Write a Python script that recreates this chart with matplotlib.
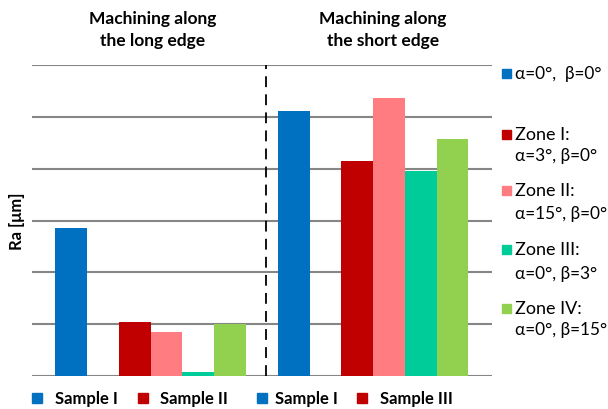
import matplotlib
matplotlib.use("Agg")
import matplotlib.pyplot as plt
from matplotlib.patches import Rectangle

# bar heights (Ra, in gridline units)
long_edge = [2.85, 1.04, 0.85, 0.08, 1.00]
short_edge = [5.11, 4.15, 5.37, 3.95, 4.57]
series_colors = ["#0070C0", "#C00000", "#FF7C80", "#00CC99", "#92D050"]
group_titles = ["Machining along\nthe long edge", "Machining along\nthe short edge"]

right_legend = [
    ("α=0°,  β=0°", None),
    ("Zone I:", "α=3°, β=0°"),
    ("Zone II:", "α=15°, β=0°"),
    ("Zone III:", "α=0°, β=3°"),
    ("Zone IV:", "α=0°, β=15°"),
]
bottom_legend = [("Sample I", "#0070C0"), ("Sample II", "#C00000"),
                 ("Sample I", "#0070C0"), ("Sample III", "#C00000")]

FONT = ["Lato", "DejaVu Sans"]
plt.rcParams["font.family"] = FONT

W, H = 608, 410
fig = plt.figure(figsize=(W / 100, H / 100), dpi=100)


def fx(px):
    return px / W


def fy(py):
    return 1 - py / H


ax = fig.add_axes([fx(32), fy(377), fx(492) - fx(32), fy(66) - fy(377)])

# slot positions: first bar alone, then a gap, then the four zones
slots = [0, 2, 3, 4, 5]
offset = 7
for vals, shift in ((long_edge, 0), (short_edge, offset)):
    ax.bar([s + shift for s in slots], vals, width=1.0, color=series_colors,
           edgecolor="none", zorder=3)

ax.set_xlim(-1.23, 13.24)
ax.set_ylim(0, 6)
ax.set_yticks(range(0, 7))
ax.set_xticks([])
ax.tick_params(axis="y", length=0, labelleft=False)
ax.grid(axis="y", color="#868686", lw=1.5, zorder=0)
for sp in ax.spines.values():
    sp.set_visible(False)
ax.axvline(6.13, color="black", lw=1.3, ls=(0, (6, 4)), zorder=4)

ax.set_ylabel("Ra [μm]", fontsize=12, fontweight="bold", labelpad=5)

# group titles
for title, cx in zip(group_titles, (153, 383)):
    fig.text(fx(cx), fy(30), title, ha="center", va="center", fontsize=12.5,
             fontweight="bold", linespacing=1.4)

# right legend
sq = 9
rows_y = [(74, None), (135, 156), (191, 214), (250, 274), (309, 330)]
for (l1, l2), color, (y1, y2) in zip(right_legend, series_colors, rows_y):
    fig.patches.append(Rectangle((fx(502), fy(y1 + sq / 2)), fx(sq), sq / H,
                                 color=color, transform=fig.transFigure))
    fig.text(fx(515), fy(y1), l1, ha="left", va="center",
             fontsize=13 if l2 else 12.4)
    if l2:
        fig.text(fx(515), fy(y2), l2, ha="left", va="center", fontsize=12.4)

# bottom legend
for (label, color), sx, tx in zip(bottom_legend, (32, 138, 257, 357), (55, 160, 275, 380)):
    fig.patches.append(Rectangle((fx(sx), fy(404)), fx(10), 10 / H,
                                 color=color, transform=fig.transFigure))
    fig.text(fx(tx), fy(399), label, ha="left", va="center", fontsize=12,
             fontweight="bold")

fig.savefig("out.png", dpi=100)
